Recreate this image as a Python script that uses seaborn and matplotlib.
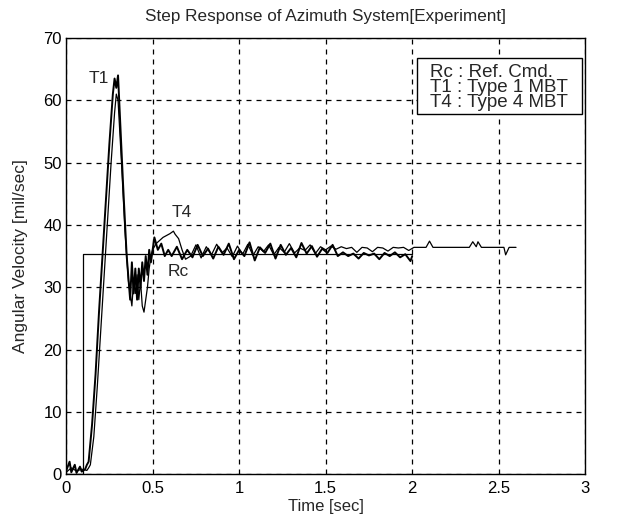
import numpy as np
import pandas as pd
import matplotlib
matplotlib.use("Agg")
import matplotlib.pyplot as plt
from matplotlib.patches import Rectangle
import seaborn as sns

# reference command (step)
rc_time = [0.00, 0.10, 0.10, 2.00]
rc_vals = [0.0, 0.0, 35.3, 35.3]

# Type 1 MBT response
t1_time = [0.00, 0.02, 0.03, 0.05, 0.06, 0.08, 0.09, 0.11, 0.12, 0.13, 0.15, 0.17,
           0.19, 0.21, 0.23, 0.25, 0.27, 0.28, 0.29, 0.30, 0.31, 0.33, 0.35, 0.37,
           0.38, 0.39, 0.40, 0.41, 0.42, 0.43, 0.44, 0.45, 0.46, 0.47, 0.48, 0.49,
           0.51, 0.53, 0.55, 0.57, 0.59,
           0.61, 0.64, 0.67, 0.70, 0.73, 0.76, 0.79, 0.82, 0.85, 0.88, 0.91, 0.94,
           0.97, 1.00, 1.03, 1.06, 1.09, 1.12, 1.15, 1.18, 1.21, 1.24, 1.27, 1.30,
           1.33, 1.36, 1.39, 1.42, 1.45, 1.48, 1.51, 1.54, 1.57, 1.60, 1.63, 1.66,
           1.69, 1.72, 1.75, 1.78, 1.81, 1.84, 1.87, 1.90, 1.93, 1.96, 1.99, 2.00]
t1_vals = [0.5, 2.0, 0.3, 1.5, 0.2, 1.2, 0.4, 0.8, 1.5, 2.0, 8.0, 16.0,
           26.0, 35.0, 44.0, 53.0, 61.0, 63.5, 62.0, 64.0, 58.0, 46.0, 35.0, 28.0,
           34.0, 29.0, 33.0, 28.0, 33.0, 30.0, 34.0, 31.0, 35.0, 32.0, 36.0, 34.0,
           38.0, 36.0, 37.0, 35.0, 36.0,
           35.0, 36.5, 34.5, 36.0, 34.8, 36.8, 35.0, 36.2, 34.6, 36.5, 35.2, 37.0,
           34.5, 36.0, 35.0, 37.2, 34.3, 36.4, 35.5, 37.0, 34.6, 36.8, 35.2, 36.3,
           34.8, 37.1, 35.4, 36.6, 34.9, 36.2, 35.5, 36.8, 35.0, 35.6, 35.0, 35.4,
           34.6, 35.5, 35.1, 35.4, 34.5, 35.5, 35.0, 35.6, 34.8, 35.3, 34.2, 35.0]

# Type 4 MBT response
t4_time = [0.00, 0.03, 0.06, 0.09, 0.12, 0.13, 0.14, 0.16, 0.18, 0.20, 0.22, 0.24,
           0.26, 0.28, 0.29, 0.30, 0.32, 0.34, 0.36, 0.38, 0.39, 0.40, 0.41, 0.42,
           0.43, 0.44, 0.45, 0.46, 0.47, 0.48, 0.49, 0.50, 0.52, 0.54, 0.56, 0.58,
           0.60, 0.62, 0.63, 0.65, 0.67, 0.69,
           0.72, 0.75, 0.78, 0.81, 0.84, 0.87, 0.90, 0.93, 0.96, 0.99, 1.02, 1.05,
           1.08, 1.11, 1.14, 1.17, 1.20, 1.23, 1.26, 1.29, 1.32, 1.35, 1.38, 1.41,
           1.44, 1.47, 1.50, 1.53, 1.56, 1.59, 1.62, 1.65, 1.68, 1.71, 1.74, 1.77,
           1.80, 1.83, 1.86, 1.89, 1.92, 1.95, 1.98, 2.01, 2.08, 2.10, 2.12, 2.33,
           2.35, 2.37, 2.38, 2.40, 2.53, 2.54, 2.56, 2.60]
t4_vals = [0.3, 1.0, 0.5, 0.8, 0.6, 1.0, 1.5, 6.0, 14.0, 23.0, 32.0, 41.0,
           50.0, 58.0, 61.0, 60.0, 50.0, 39.0, 31.0, 27.0, 31.0, 29.0, 32.0, 28.0,
           31.0, 27.0, 26.0, 28.0, 30.0, 33.0, 35.0, 36.0, 37.0, 37.5, 38.0, 38.3,
           38.6, 39.0, 38.5, 37.8, 36.0, 34.5,
           35.0, 36.8, 34.7, 36.5, 35.2, 36.9, 35.5, 36.3, 34.9, 36.6, 35.3, 36.9,
           35.1, 36.5, 35.7, 36.8, 35.2, 36.4, 35.6, 37.0, 35.5, 36.3, 35.9, 36.8,
           35.4, 36.5, 36.0, 36.6, 36.1, 36.5, 36.2, 36.4, 35.6, 36.4, 36.3, 35.7,
           36.4, 36.3, 35.8, 36.4, 36.3, 36.4, 35.9, 36.4, 36.4, 37.4, 36.4, 36.4,
           37.3, 36.5, 37.3, 36.4, 36.4, 35.2, 36.4, 36.4]

x_ticks = [0, 0.5, 1, 1.5, 2, 2.5, 3]
x_tick_labels = ["0", "0.5", "1", "1.5", "2", "2.5", "3"]
y_ticks = [0, 10, 20, 30, 40, 50, 60, 70]
legend_lines = ["Rc : Ref. Cmd.", "T1 : Type 1 MBT", "T4 : Type 4 MBT"]

sns.set_style("white")
plt.rcParams["font.family"] = ["Liberation Sans", "DejaVu Sans"]

fig = plt.figure(figsize=(6.18, 5.28), dpi=100)
ax = fig.add_axes([0.107, 0.102, 0.840, 0.826])

rc = pd.DataFrame({"t": rc_time, "v": rc_vals})
t1 = pd.DataFrame({"t": t1_time, "v": t1_vals})
t4 = pd.DataFrame({"t": t4_time, "v": t4_vals})

sns.lineplot(data=rc, x="t", y="v", ax=ax, color="black", lw=0.9,
             sort=False, estimator=None)
sns.lineplot(data=t4, x="t", y="v", ax=ax, color="black", lw=0.9,
             sort=False, estimator=None)
sns.lineplot(data=t1, x="t", y="v", ax=ax, color="black", lw=1.4,
             sort=False, estimator=None)

ax.set_xlim(0, 3)
ax.set_ylim(0, 70)
ax.set_xticks(x_ticks)
ax.set_xticklabels(x_tick_labels)
ax.set_yticks(y_ticks)
ax.tick_params(direction="in", length=3, labelsize=12, colors="black", pad=3)
ax.tick_params(axis="x", pad=5)
ax.grid(True, color="black", linestyle=(0, (4, 4)), lw=0.9)
for s in ax.spines.values():
    s.set_color("black")
    s.set_linewidth(1.0)

ax.set_xlabel("Time [sec]", fontsize=12, labelpad=2)
ax.set_ylabel("Angular Velocity [mil/sec]", fontsize=12.5, labelpad=11)
ax.set_title("Step Response of Azimuth System[Experiment]", fontsize=12.3, pad=12)

ax.text(0.19, 63.5, "T1", fontsize=12.5, ha="center", va="center")
ax.text(0.67, 42.0, "T4", fontsize=12.5, ha="center", va="center")
ax.text(0.65, 32.6, "Rc", fontsize=12.5, ha="center", va="center")

# legend box drawn as a plain text panel
ax.add_patch(Rectangle((0.676, 0.826), 0.318, 0.128, transform=ax.transAxes,
                       facecolor="white", edgecolor="black", lw=1.0, zorder=5))
ax.text(0.70, 0.94, "\n".join(legend_lines), transform=ax.transAxes,
        fontsize=13.5, ha="left", va="top", linespacing=0.85, zorder=6)

fig.savefig("out.png", dpi=100)
